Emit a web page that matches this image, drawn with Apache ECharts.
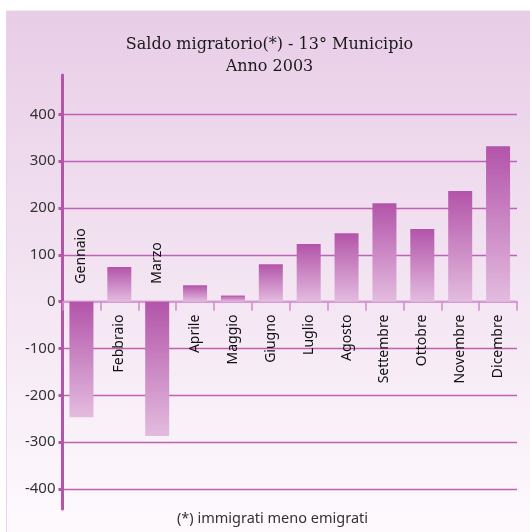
<!DOCTYPE html>
<html>
<head>
<meta charset="utf-8">
<style>
  html, body { margin: 0; padding: 0; background: #ffffff; }
  #chart { width: 530px; height: 532px; }
</style>
<script src="https://cdn.jsdelivr.net/npm/echarts@6/dist/echarts.min.js"></script>
</head>
<body>
<div id="chart"></div>
<script>
// Monthly migration balance (immigrants minus emigrants), 13th Municipio, 2003
const months = ['Gennaio', 'Febbraio', 'Marzo', 'Aprile', 'Maggio', 'Giugno',
                'Luglio', 'Agosto', 'Settembre', 'Ottobre', 'Novembre', 'Dicembre'];
const saldo = [-247, 74, -287, 35, 13, 80, 123, 146, 210, 155, 236, 332];
const yTicks = [-400, -300, -200, -100, 0, 100, 200, 300, 400];

const titleText = 'Saldo migratorio(*) - 13° Municipio\nAnno 2003';
const noteText = '(*) immigrati meno emigrati';

const purple = '#b455aa';
const labelFont = '"Noto Sans", "Open Sans", sans-serif';

const W = 530, H = 532;
const plot = { left: 62.5, right: 13, top: 114.3, bottom: 43 };
const yMin = yTicks[0], yMax = yTicks[yTicks.length - 1];
// shift the category axis from the plot bottom up to the zero line
const plotHeight = H - plot.top - plot.bottom;
const zeroOffset = -plotHeight * (0 - yMin) / (yMax - yMin);

// Month labels: negative months get their label above the zero line
const monthItems = months.map((m, i) => {
  if (saldo[i] < 0) {
    return { value: m, textStyle: { align: 'left', padding: [0, 0, 0, 31] } };
  }
  return m;
});

const chart = echarts.init(document.getElementById('chart'), null, { renderer: 'canvas' });

chart.setOption({
  animation: false,
  graphic: [
    {
      type: 'rect',
      z: -10,
      silent: true,
      shape: { x: 6.5, y: 11, width: 530, height: 530 },
      style: {
        fill: new echarts.graphic.LinearGradient(0, 0, 0, 1, [
          { offset: 0, color: '#e8cde7' },
          { offset: 0.55, color: '#f4e6f3' },
          { offset: 1, color: '#fefbfe' }
        ]),
        stroke: '#ecd2eb',
        lineWidth: 1
      }
    },
    {
      type: 'text',
      x: 269.5,
      y: 34,
      silent: true,
      style: {
        text: titleText,
        textAlign: 'center',
        textVerticalAlign: 'top',
        font: '16px "DejaVu Serif", "Liberation Serif", serif',
        lineHeight: 22,
        fill: '#1a1a1a'
      }
    },
    {
      type: 'text',
      x: 177,
      y: 511,
      silent: true,
      style: {
        text: noteText,
        font: '14.5px ' + labelFont,
        fill: '#333333'
      }
    }
  ],
  grid: [
    { left: plot.left, right: plot.right, top: plot.top, bottom: plot.bottom,
      containLabel: false, outerBoundsMode: 'none' },
    { left: plot.left, right: plot.right, top: 75, bottom: 23,
      containLabel: false, outerBoundsMode: 'none' }
  ],
  xAxis: [
    {
      type: 'category',
      gridIndex: 0,
      position: 'bottom',
      offset: zeroOffset,
      data: monthItems,
      axisLine: { onZero: false, lineStyle: { color: '#d69bd2', width: 2 } },
      axisTick: { show: true, length: 9, lineStyle: { color: '#d08ccc', width: 1.5 } },
      axisLabel: {
        interval: 0,
        rotate: 90,
        margin: 13,
        fontFamily: labelFont,
        fontSize: 14,
        color: '#111111'
      }
    },
    { type: 'value', gridIndex: 1, show: false, min: 0, max: 1 }
  ],
  yAxis: [
    {
      type: 'value',
      gridIndex: 0,
      min: yMin,
      max: yMax,
      interval: 100,
      axisLine: { show: false },
      axisTick: { show: true, length: 4, lineStyle: { color: purple, width: 3 } },
      axisLabel: {
        margin: 7,
        fontFamily: labelFont,
        fontSize: 15,
        color: '#333333'
      },
      splitLine: { show: true, lineStyle: { color: '#bd62b4', width: 1.3 } }
    },
    {
      // full-height vertical axis line
      type: 'value',
      gridIndex: 1,
      min: 0,
      max: 1,
      axisLine: { show: true, lineStyle: { color: purple, width: 3 } },
      axisTick: { show: false },
      axisLabel: { show: false },
      splitLine: { show: false }
    }
  ],
  series: [
    {
      type: 'bar',
      xAxisIndex: 0,
      yAxisIndex: 0,
      data: saldo,
      barWidth: 24,
      z: 3,
      itemStyle: {
        color: new echarts.graphic.LinearGradient(0, 0, 0, 1, [
          { offset: 0, color: '#b354a9' },
          { offset: 1, color: '#e3bcdf' }
        ])
      }
    }
  ]
});
</script>
</body>
</html>
